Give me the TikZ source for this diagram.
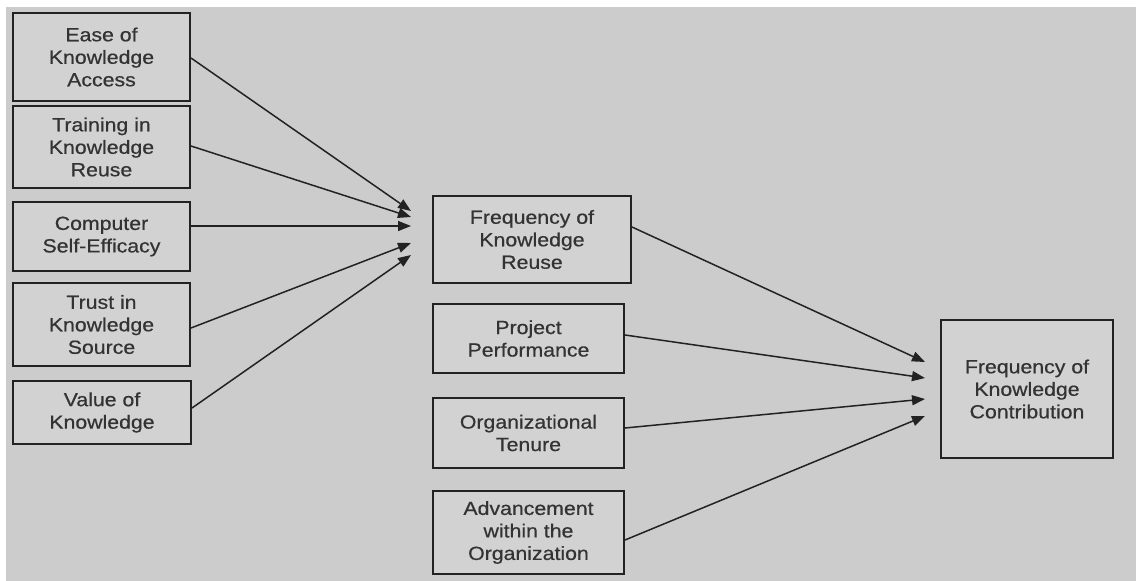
\documentclass[tikz,border=0pt]{standalone}
\usepackage{fontspec}
\usetikzlibrary{arrows.meta}
\newfontfamily\lblfont[FakeStretch=1.12,FakeBold=0.6]{Liberation Sans}
\definecolor{panel}{HTML}{CCCCCC}
\definecolor{boxfill}{HTML}{D2D2D2}
\definecolor{ink}{HTML}{222222}
\definecolor{txt}{HTML}{333333}
\tikzset{
  factor/.style={draw=ink, line width=2pt, fill=boxfill, inner sep=0pt,
    align=center, text=txt,
    font=\lblfont\fontsize{19}{22.5}\selectfont},
  link/.style={draw=ink, line width=1.5pt,
    -{Triangle[length=13pt,width=10pt]}}
}
\begin{document}
\begin{tikzpicture}[x=1pt,y=-1pt]
  % canvas and grey panel
  \path[fill=white, use as bounding box] (0,0) rectangle (1136,581);
  \fill[panel] (6,7) rectangle (1136,581);

  % antecedents of reuse
  \node[factor, minimum width=177pt, minimum height=88pt] (ease)  at (101.5,57)  {Ease of\\Knowledge\\Access};
  \node[factor, minimum width=177pt, minimum height=82pt] (train) at (101.5,147)  {Training in\\Knowledge\\Reuse};
  \node[factor, minimum width=177pt, minimum height=69pt] (comp)  at (101.5,236.5) {Computer\\Self-Efficacy};
  \node[factor, minimum width=177pt, minimum height=83pt] (trust) at (101.5,324.5) {Trust in\\Knowledge\\Source};
  \node[factor, minimum width=178pt, minimum height=63pt] (value) at (102,412.5) {Value of\\Knowledge};

  % middle column
  \node[factor, minimum width=198pt, minimum height=87pt] (reuse) at (532,239.5) {Frequency of\\Knowledge\\Reuse};
  \node[factor, minimum width=191pt, minimum height=69pt] (proj)  at (528.5,338.5) {Project\\Performance};
  \node[factor, minimum width=191pt, minimum height=70pt] (tenure) at (528.5,433) {Organizational\\Tenure};
  \node[factor, minimum width=191pt, minimum height=83pt] (adv)   at (528.5,532.5) {Advancement\\within the\\Organization};

  % outcome
  \node[factor, minimum width=172pt, minimum height=138pt] (contrib) at (1027,389) {Frequency of\\Knowledge\\Contribution};

  % arrow tips in front of the reuse box
  \coordinate (ta) at (411,211);
  \coordinate (tb) at (411,217);
  \coordinate (tc) at (411,226);
  \coordinate (td) at (411,243);
  \coordinate (te) at (411,255);

  % arrow tips in front of the contribution box
  \coordinate (ra) at (925,362);
  \coordinate (rb) at (925,378);
  \coordinate (rc) at (925,399);
  \coordinate (rd) at (925,416);

  \draw[link] ([yshift=-1pt]ease.east)    -- (ta);
  \draw[link] ([yshift=1pt]train.east)    -- (tb);
  \draw[link] ([yshift=10.5pt]comp.east)  -- (tc);
  \draw[link] ([yshift=-3.5pt]trust.east) -- (td);
  \draw[link] ([yshift=4.5pt]value.east)  -- (te);

  \draw[link] ([yshift=12.5pt]reuse.east) -- (ra);
  \draw[link] ([yshift=3.5pt]proj.east)   -- (rb);
  \draw[link] ([yshift=5pt]tenure.east)   -- (rc);
  \draw[link] ([yshift=-7.5pt]adv.east)   -- (rd);
\end{tikzpicture}
\end{document}
